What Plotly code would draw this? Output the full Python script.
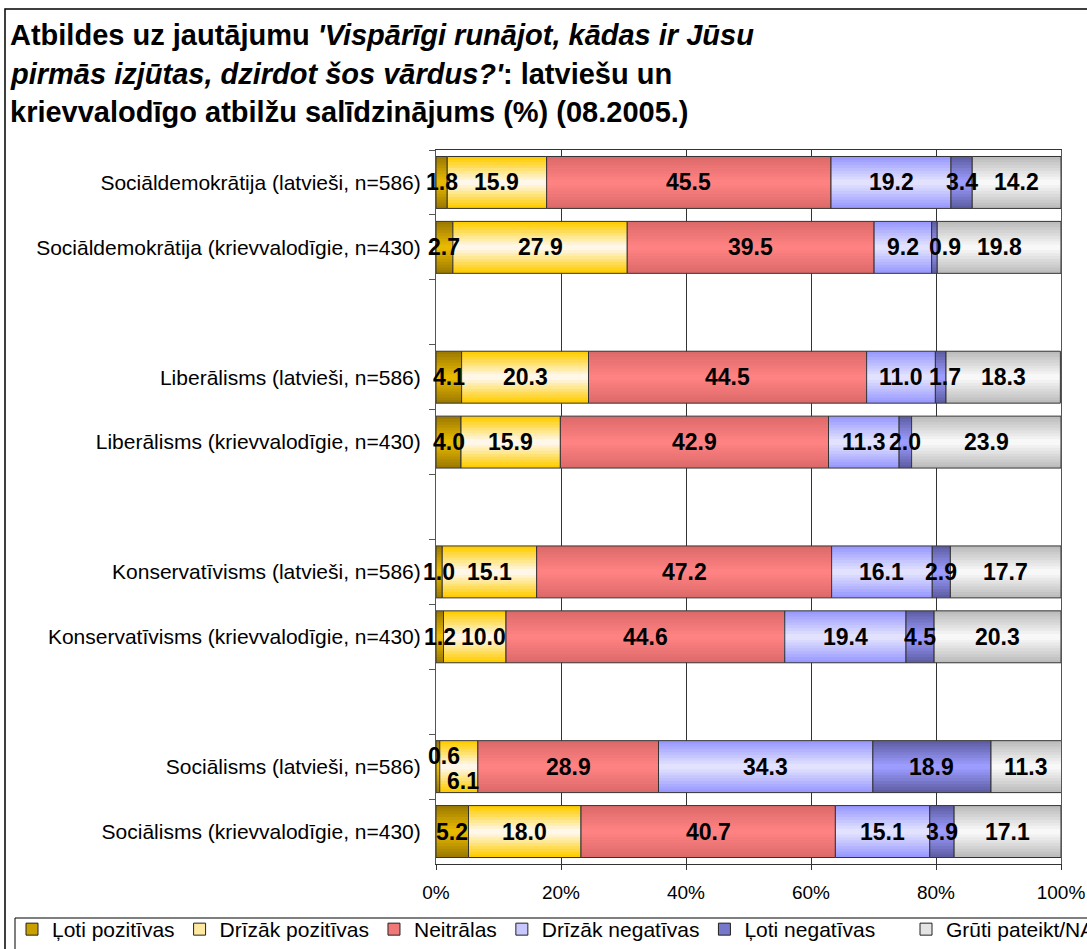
import plotly.graph_objects as go

# ---------------- data ----------------
categories = [
    "Sociāldemokrātija (latvieši, n=586)",
    "Sociāldemokrātija (krievvalodīgie, n=430)",
    " ",
    "Liberālisms (latvieši, n=586)",
    "Liberālisms (krievvalodīgie, n=430)",
    "  ",
    "Konservatīvisms (latvieši, n=586)",
    "Konservatīvisms (krievvalodīgie, n=430)",
    "   ",
    "Sociālisms (latvieši, n=586)",
    "Sociālisms (krievvalodīgie, n=430)",
]
data_rows = [c for c in categories if c.strip()]

series_names = ["Ļoti pozitīvas", "Drīzāk pozitīvas", "Neitrālas",
                "Drīzāk negatīvas", "Ļoti negatīvas", "Grūti pateikt/NA"]

loti_pozitivas = [1.8, 2.7, 4.1, 4.0, 1.0, 1.2, 0.6, 5.2]
drizak_pozitivas = [15.9, 27.9, 20.3, 15.9, 15.1, 10.0, 6.1, 18.0]
neitralas = [45.5, 39.5, 44.5, 42.9, 47.2, 44.6, 28.9, 40.7]
drizak_negativas = [19.2, 9.2, 11.0, 11.3, 16.1, 19.4, 34.3, 15.1]
loti_negativas = [3.4, 0.9, 1.7, 2.0, 2.9, 4.5, 18.9, 3.9]
gruti_pateikt = [14.2, 19.8, 18.3, 23.9, 17.7, 20.3, 11.3, 17.1]

x_tickvals = [0, 20, 40, 60, 80, 100]
x_ticktext = ["0%", "20%", "40%", "60%", "80%", "100%"]

series_values = [loti_pozitivas, drizak_pozitivas, neitralas,
                 drizak_negativas, loti_negativas, gruti_pateikt]

# ---------------- styles ----------------
edge_colors = ["#9E7B00", "#FFCC00", "#DD6A6A", "#9999FF", "#5F5FA6", "#BDBDBD"]
center_colors = ["#E8B900", "#FFF8EA", "#FF8282", "#E2E2FF", "#9C9CFF", "#F8F8F8"]
legend_colors = ["#C9A000", "#FFE9A0", "#F07878", "#C8C8FF", "#7777CC", "#E4E4E4"]
legend_ids = ["legend", "legend", "legend", "legend", "legend", "legend2"]
FONT = "Liberation Sans, Arial, sans-serif"

W, H = 1087, 949
L, R, T, B = 436, 26, 150, 85
PW, PH = W - L - R, H - T - B


def px_x(px):
    return (px - L) / PW


def px_y(py):
    return (H - B - py) / PH


def hex2rgb(h):
    h = h.lstrip("#")
    return tuple(int(h[i:i + 2], 16) for i in (0, 2, 4))


def mix(c1, c2, t):
    a, b = hex2rgb(c1), hex2rgb(c2)
    return "rgb(%d,%d,%d)" % tuple(round(a[i] + (b[i] - a[i]) * t) for i in range(3))


fig = go.Figure()

# legend-only traces
for s, name in enumerate(series_names):
    fig.add_trace(go.Bar(
        x=[None], y=[data_rows[0]], orientation="h", name=name,
        marker=dict(color=legend_colors[s], line=dict(color="#222222", width=1)),
        showlegend=True, legend=legend_ids[s], hoverinfo="skip"))

# bars with simulated vertical gradient
n_layers = 9
bases = [0.0] * len(data_rows)
label_annotations = []
label_nudge = {(6, 0): (6, -11), (6, 1): (4, 14), (1, 4): (11, 0),
               (5, 1): (9, 0), (2, 4): (4, 0)}
for s, vals in enumerate(series_values):
    for k in range(n_layers):
        t = k / (n_layers - 1)
        width = 0.8 * (1 - k / n_layers)
        fig.add_trace(go.Bar(
            x=vals, y=data_rows, base=bases, orientation="h", width=width,
            marker=dict(color=mix(edge_colors[s], center_colors[s], t), line=dict(width=0)),
            showlegend=False, hoverinfo="skip"))
    fig.add_trace(go.Bar(
        x=vals, y=data_rows, base=bases, orientation="h", width=0.8,
        marker=dict(color="rgba(0,0,0,0)", line=dict(color="#333333", width=1)),
        showlegend=False, name=series_names[s],
        hovertemplate="%{y}: %{x:.1f}<extra>" + series_names[s] + "</extra>"))
    for i, v in enumerate(vals):
        dx, dy = label_nudge.get((i, s), (0, 0))
        label_annotations.append(dict(
            x=bases[i] + v / 2, y=data_rows[i], xref="x", yref="y",
            text="<b>%.1f</b>" % v, showarrow=False,
            font=dict(family=FONT, size=23, color="black"),
            xshift=dx, yshift=-dy))
    bases = [b + v for b, v in zip(bases, vals)]

# title lines
title_lines = [
    "<b>Atbildes uz jautājumu <i>'Vispārīgi runājot, kādas ir Jūsu</i></b>",
    "<b><i>pirmās izjūtas, dzirdot šos vārdus?'</i>: latviešu un</b>",
    "<b>krievvalodīgo atbilžu salīdzinājums (%) (08.2005.)</b>",
]
title_centers = [35, 74, 112]
title_annotations = [
    dict(x=px_x(8), y=px_y(cy), xref="paper", yref="paper", text=txt,
         showarrow=False, xanchor="left", yanchor="middle",
         font=dict(family=FONT, size=29, color="black"))
    for txt, cy in zip(title_lines, title_centers)
]

legend_common = dict(orientation="h", xanchor="left", yanchor="top",
                     bgcolor="rgba(0,0,0,0)", borderwidth=0,
                     font=dict(family=FONT, size=21), itemwidth=30,
                     traceorder="normal")

fig.update_layout(
    width=W, height=H,
    margin=dict(l=L, r=R, t=T, b=B, autoexpand=False),
    paper_bgcolor="white", plot_bgcolor="white",
    barmode="overlay",
    font=dict(family=FONT, size=17, color="black"),
    annotations=label_annotations + title_annotations,
    shapes=[
        dict(type="rect", xref="paper", yref="paper",
             x0=px_x(5), x1=px_x(1100), y0=px_y(965), y1=px_y(9),
             line=dict(color="black", width=1.5), fillcolor="rgba(0,0,0,0)",
             layer="below"),
        dict(type="rect", xref="paper", yref="paper",
             x0=px_x(15), x1=px_x(1100), y0=px_y(965), y1=px_y(918),
             line=dict(color="black", width=1), fillcolor="white",
             layer="below"),
    ],
    legend=dict(legend_common, x=px_x(12), y=px_y(909)),
    legend2=dict(legend_common, x=px_x(906), y=px_y(909)),
    xaxis=dict(range=[0, 100], tickvals=x_tickvals, ticktext=x_ticktext,
               showgrid=True, gridcolor="#333333", gridwidth=1,
               showline=True, linecolor="#333333", linewidth=1, mirror=True,
               ticks="outside", ticklen=5, tickcolor="#333333", ticklabelstandoff=6,
               tickfont=dict(family=FONT, size=19), zeroline=False, fixedrange=True),
    yaxis=dict(categoryorder="array", categoryarray=categories, type="category",
               autorange="reversed", showgrid=False,
               showline=True, linecolor="#555555", linewidth=1, mirror=True,
               ticks="outside", ticklen=6, tickcolor="#555555", tickson="boundaries",
               ticklabelstandoff=10,
               tickfont=dict(family=FONT, size=21), fixedrange=True),
)

fig.write_html("out.html", config={"displayModeBar": False},
               post_script="document.body.style.margin='0';")
